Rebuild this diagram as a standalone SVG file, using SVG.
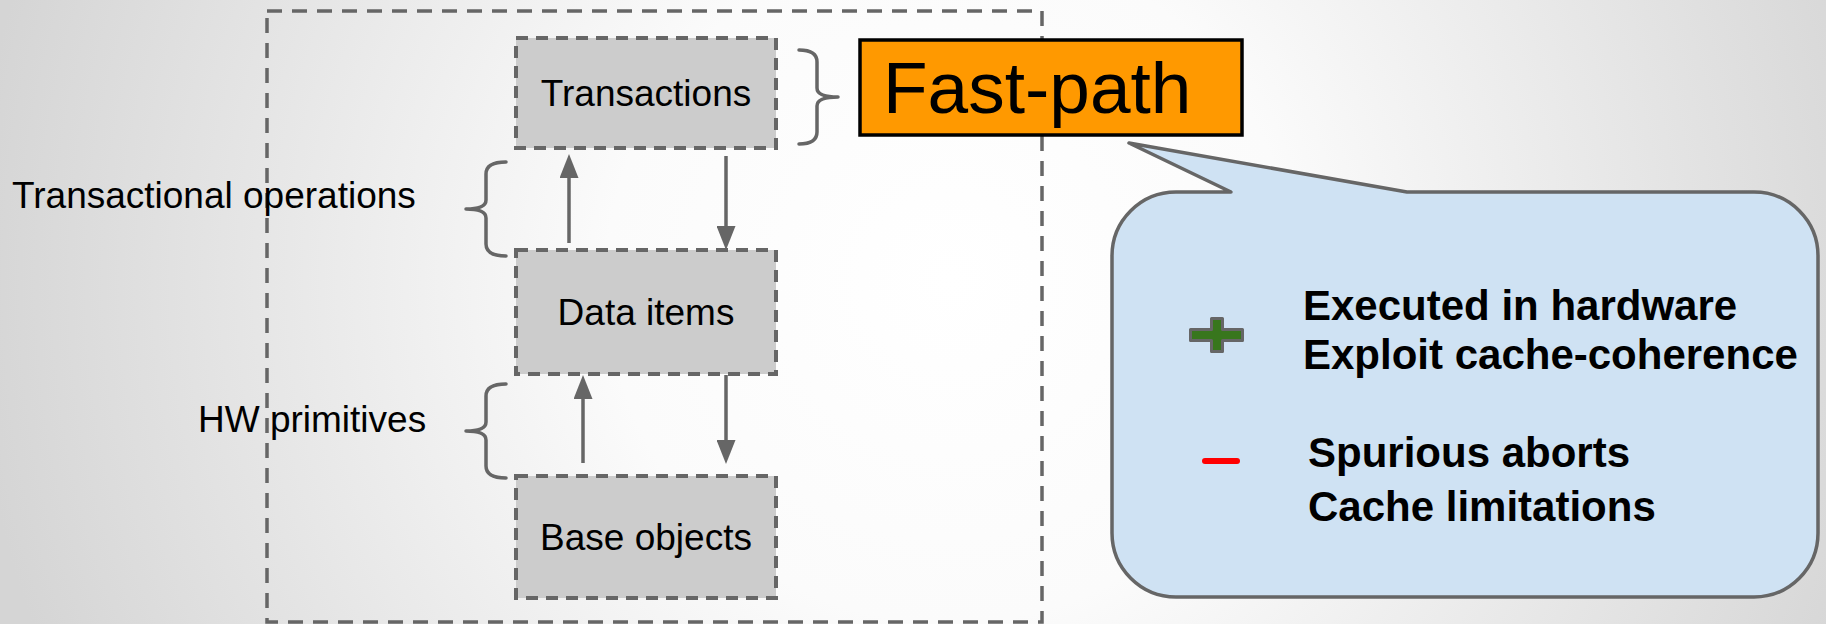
<svg xmlns="http://www.w3.org/2000/svg" width="1826" height="624" viewBox="0 0 1826 624">
<style>
.lbl{font-family:"Liberation Sans",Arial,sans-serif;font-size:37px;fill:#000}
.node rect{fill:#cccccc;stroke:#666666;stroke-width:4;stroke-dasharray:12 8}
.brace{fill:none;stroke:#666666;stroke-width:3.5;stroke-linecap:round;stroke-linejoin:round}
.conn{stroke:#666666;stroke-width:3.5;fill:none}
.pt{font-family:"Liberation Sans",Arial,sans-serif;font-size:42px;font-weight:bold;fill:#000}
</style>
<defs>
<radialGradient id="bg" gradientUnits="userSpaceOnUse" cx="950" cy="280" r="980">
<stop offset="0" stop-color="#ffffff"/>
<stop offset="0.35" stop-color="#fbfbfb"/>
<stop offset="1" stop-color="#d5d5d5"/>
</radialGradient>
<marker id="ah" viewBox="0 0 24 19" refX="12" refY="9.5" markerWidth="24" markerHeight="19" markerUnits="userSpaceOnUse" orient="auto">
<path d="M0,0 L24,9.5 L0,19 Z" fill="#666666"/>
</marker>
</defs>
<rect x="0" y="0" width="1826" height="624" fill="url(#bg)"/>
<rect id="frame" x="267" y="11" width="775" height="611" fill="none" stroke="#666666" stroke-width="3.5" stroke-dasharray="15 10"/>

<g id="braces">
<path class="brace" d="M799,50 Q817,50 817,62 L817,88 Q817,97 838,97 Q817,97 817,106 L817,132 Q817,144 799,144"/>
<path class="brace" d="M506,162 Q486,162 486,174 L486,200 Q486,209 466,209 Q486,209 486,218 L486,244 Q486,256 506,256"/>
<path class="brace" d="M506,384 Q486,384 486,396 L486,422 Q486,431 466,431 Q486,431 486,440 L486,466 Q486,478 506,478"/>
</g>

<g id="n-transactions" class="node">
<rect x="516" y="38" width="260" height="110"/>
<text class="lbl" x="646" y="106" text-anchor="middle">Transactions</text>
</g>
<g id="n-data" class="node">
<rect x="516" y="250" width="260" height="124"/>
<text class="lbl" x="646" y="325" text-anchor="middle">Data items</text>
</g>
<g id="n-base" class="node">
<rect x="516" y="476" width="260" height="122"/>
<text class="lbl" x="646" y="550" text-anchor="middle">Base objects</text>
</g>

<g id="connectors">
<line class="conn" x1="569" y1="243" x2="569" y2="166" marker-end="url(#ah)"/>
<line class="conn" x1="726" y1="156" x2="726" y2="238" marker-end="url(#ah)"/>
<line class="conn" x1="583" y1="463" x2="583" y2="387" marker-end="url(#ah)"/>
<line class="conn" x1="726" y1="375" x2="726" y2="452" marker-end="url(#ah)"/>
</g>

<text id="t-ops" class="lbl" x="12" y="208">Transactional operations</text>
<text id="t-hw" class="lbl" x="198" y="432">HW primitives</text>

<g id="n-fastpath">
<rect x="860" y="40" width="382" height="95" fill="#ff9900" stroke="#000000" stroke-width="3.5"/>
<text x="883" y="113" font-family="'Liberation Sans',Arial,sans-serif" font-size="73" fill="#000">Fast-path</text>
</g>

<g id="n-bubble">
<path d="M1176,192 L1231,192 L1129,143 L1407,192 L1754,192 A64,64 0 0 1 1818,256 L1818,533 A64,64 0 0 1 1754,597 L1176,597 A64,64 0 0 1 1112,533 L1112,256 A64,64 0 0 1 1176,192 Z" fill="#cfe2f3" stroke="#666666" stroke-width="3.5" stroke-linejoin="round"/>
<path d="M1211.5,318.5 H1222.5 V329.5 H1242.5 V340.5 H1222.5 V351.5 H1211.5 V340.5 H1190.5 V329.5 H1211.5 Z" fill="#38761d" stroke="#666666" stroke-width="3" stroke-linejoin="round"/>
<line x1="1205" y1="461" x2="1237" y2="461" stroke="#ff0000" stroke-width="6" stroke-linecap="round"/>
<text class="pt" x="1303" y="320">Executed in hardware</text>
<text class="pt" x="1303" y="369">Exploit cache-coherence</text>
<text class="pt" x="1308" y="467">Spurious aborts</text>
<text class="pt" x="1308" y="521">Cache limitations</text>
</g>
</svg>
